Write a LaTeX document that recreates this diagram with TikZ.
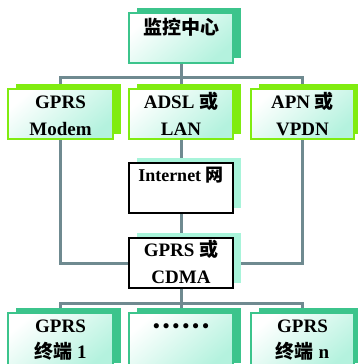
\documentclass[tikz,border=0pt]{standalone}
\usepackage{fontspec}
\setmainfont{Liberation Serif}
\newfontfamily\cjk{Noto Sans CJK SC}
\usetikzlibrary{shadows,backgrounds}
\definecolor{linec}{HTML}{6F8A90}
\definecolor{tealb}{HTML}{3CC48C}
\definecolor{mintc}{HTML}{B4F2DE}
\definecolor{limec}{HTML}{80EC10}
\definecolor{mintsh}{HTML}{A8F4DA}
\newcommand\btxt[2]{\raisebox{#1}[0pt][0pt]{\begin{tabular}{@{}c@{}}#2\end{tabular}}}
\newcommand\sixdots{\textbullet\hspace{3.2pt}\textbullet\hspace{3.2pt}\textbullet\hspace{3.2pt}\textbullet\hspace{3.2pt}\textbullet\hspace{3.2pt}\textbullet}
\tikzset{
  base/.style={rectangle, inner sep=0pt,
    font=\bfseries\fontsize{19}{27}\selectfont},
  tealbox/.style={base, draw=tealb, line width=1.6pt,
    top color=white, bottom color=mintc, shading angle=40,
    general shadow={fill=tealb, shadow xshift=8pt, shadow yshift=5.5pt}},
  limebox/.style={base, draw=limec, line width=1.6pt,
    top color=white, bottom color=mintc, shading angle=40,
    general shadow={fill=limec, shadow xshift=8pt, shadow yshift=5.5pt}},
  plainbox/.style={base, draw=black, line width=1.1pt, fill=white,
    general shadow={fill=mintsh, shadow xshift=8pt, shadow yshift=5.5pt}},
  conn/.style={draw=linec, line width=3pt, line join=miter}
}
\begin{document}
\begin{tikzpicture}[x=1pt,y=-1pt]
\useasboundingbox (0,0) rectangle (358,364);
\node[tealbox, minimum width=104pt, minimum height=50pt] (top) at (181,38) {\btxt{5pt}{{\cjk 监控中心}}};
\node[limebox, minimum width=105pt, minimum height=50pt] (gm) at (60.5,114) {\btxt{-7pt}{GPRS\\Modem}};
\node[limebox, minimum width=104pt, minimum height=50pt] (adsl) at (181,114) {\btxt{-7pt}{ADSL {\cjk 或}\\LAN}};
\node[limebox, minimum width=103pt, minimum height=50pt] (apn) at (302.5,114) {\btxt{-7pt}{APN {\cjk 或}\\VPDN}};
\node[plainbox, minimum width=104pt, minimum height=50pt, font=\bfseries\fontsize{18}{27}\selectfont] (inet) at (181,188) {\btxt{8pt}{Internet {\cjk 网}}};
\node[plainbox, minimum width=104pt, minimum height=50pt] (gc) at (181,263) {\btxt{-6pt}{GPRS {\cjk 或}\\CDMA}};
\node[tealbox, minimum width=105pt, minimum height=55pt, font=\bfseries\fontsize{19}{26}\selectfont] (t1) at (60.5,340.5) {\btxt{-4pt}{GPRS\\{\cjk 终端} 1}};
\node[tealbox, minimum width=104pt, minimum height=55pt] (dots) at (181,340.5) {\btxt{9pt}{\sixdots}};
\node[tealbox, minimum width=103pt, minimum height=55pt, font=\bfseries\fontsize{19}{26}\selectfont] (tn) at (302.5,340.5) {\btxt{-4pt}{GPRS\\{\cjk 终端} n}};
\coordinate (h1) at (181,77);
\coordinate (h2) at (181,303);
\begin{pgfonlayer}{background}
\draw[conn] (top.south) -- (h1);
\draw[conn] (h1) -| (gm.north);
\draw[conn] (h1) -| (apn.north);
\draw[conn] (h1) -- (adsl.north);
\draw[conn] (adsl.south) -- (inet.north);
\draw[conn] (inet.south) -- (gc.north);
\draw[conn] (gm.south) |- (gc.west);
\draw[conn] (apn.south) |- (gc.east);
\draw[conn] (gc.south) -- (h2);
\draw[conn] (h2) -| (t1.north);
\draw[conn] (h2) -| (tn.north);
\draw[conn] (h2) -- (dots.north);
\end{pgfonlayer}
\end{tikzpicture}
\end{document}
